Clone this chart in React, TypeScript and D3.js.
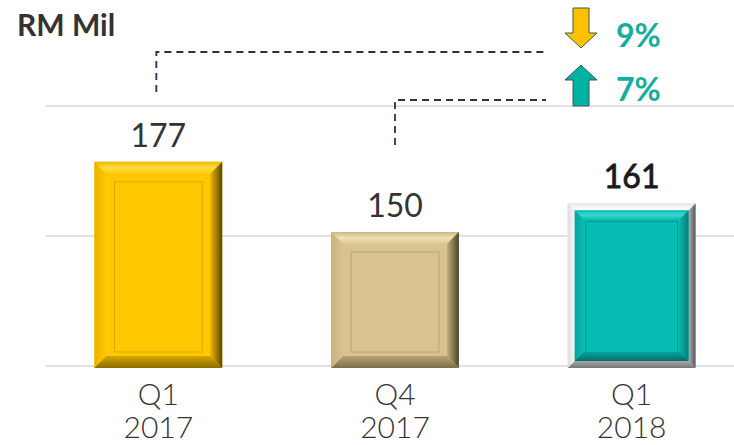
import React from 'react';
import * as d3 from 'd3';

const quarters = ['Q1', 'Q4', 'Q1'];
const years = ['2017', '2017', '2018'];
const values = [177, 150, 161];
const yTicks = [100, 150, 200];
const changeLabels = ['9%', '7%'];
const changeDirections = ['down', 'up'];

const width = 734;
const height = 445;
const font = "Lato, 'Open Sans', sans-serif";

type Palette = {
  face: string;
  top: [string, string, string];
  left: [string, string];
  right: [string, string];
  bottom: [string, string];
  inner: string;
  frame?: boolean;
};

const palettes: Palette[] = [
  {
    face: '#FFC800',
    top: ['#EDB800', '#FFDD45', '#FFCB0A'],
    left: ['#E9B300', '#FFC600'],
    right: ['#F0B800', '#5A4600'],
    bottom: ['#D6A600', '#8A6B00'],
    inner: '#D9A900',
  },
  {
    face: '#D8C290',
    top: ['#CDB580', '#F0E2B6', '#DBC693'],
    left: ['#C9B27D', '#D8C290'],
    right: ['#C4AE7C', '#4E4330'],
    bottom: ['#B9A372', '#7D6D4B'],
    inner: '#BBA472',
  },
  {
    face: '#07BDB3',
    top: ['#10B8AE', '#3AD8CE', '#0BC2B8'],
    left: ['#06A69D', '#08BAB0'],
    right: ['#07B3A9', '#067E78'],
    bottom: ['#07A39A', '#056F69'],
    inner: '#069A92',
    frame: true,
  },
];

function bevel(x0: number, y0: number, x1: number, y1: number, b: number) {
  const p = (pts: number[][]) => pts.map(d => d.join(',')).join(' ');
  return {
    top: p([[x0, y0], [x1, y0], [x1 - b, y0 + b], [x0 + b, y0 + b]]),
    left: p([[x0, y0], [x0 + b, y0 + b], [x0 + b, y1 - b], [x0, y1]]),
    right: p([[x1, y0], [x1, y1], [x1 - b, y1 - b], [x1 - b, y0 + b]]),
    bottom: p([[x0, y1], [x0 + b, y1 - b], [x1 - b, y1 - b], [x1, y1]]),
  };
}

function Bar({ i, x0, x1, y0, y1 }: { i: number; x0: number; x1: number; y0: number; y1: number }) {
  const pal = palettes[i];
  let ix0 = x0, ix1 = x1, iy0 = y0, iy1 = y1;
  const parts: React.ReactNode[] = [];
  if (pal.frame) {
    const f = bevel(x0, y0, x1, y1, 7);
    parts.push(
      <g key="frame">
        <rect x={x0} y={y0} width={x1 - x0} height={y1 - y0} fill="#dcdcdc" />
        <polygon points={f.top} fill="url(#fr-top)" />
        <polygon points={f.left} fill="url(#fr-left)" />
        <polygon points={f.right} fill="url(#fr-right)" />
        <polygon points={f.bottom} fill="url(#fr-bottom)" />
      </g>
    );
    ix0 += 7; ix1 -= 7; iy0 += 7; iy1 -= 7;
  }
  const b = pal.frame ? 9 : 12;
  const inset = pal.frame ? 18 : 20;
  const bv = bevel(ix0, iy0, ix1, iy1, b);
  return (
    <g>
      {parts}
      <rect x={ix0} y={iy0} width={ix1 - ix0} height={iy1 - iy0} fill={pal.face} />
      <polygon points={bv.top} fill={`url(#g${i}-top)`} />
      <polygon points={bv.left} fill={`url(#g${i}-left)`} />
      <polygon points={bv.right} fill={`url(#g${i}-right)`} />
      <polygon points={bv.bottom} fill={`url(#g${i}-bottom)`} />
      <rect
        x={x0 + inset}
        y={y0 + inset}
        width={x1 - x0 - inset * 2}
        height={y1 - y0 - inset * 2 + 4}
        fill="none"
        stroke={pal.inner}
        strokeWidth={1}
      />
    </g>
  );
}

function Arrow({ cx, yTip, yEnd, dir }: { cx: number; yTip: number; yEnd: number; dir: string }) {
  const hw = 16;
  const sw = 8;
  const hl = 15;
  const s = dir === 'down' ? -1 : 1;
  const yBase = yTip + s * hl;
  const pts = [
    [cx, yTip],
    [cx + hw, yBase],
    [cx + sw, yBase],
    [cx + sw, yEnd],
    [cx - sw, yEnd],
    [cx - sw, yBase],
    [cx - hw, yBase],
  ];
  return (
    <polygon
      points={pts.map(d => d.join(',')).join(' ')}
      fill={dir === 'down' ? '#FFC000' : '#00B2A2'}
      stroke="#3E5A4E"
      strokeWidth={1}
    />
  );
}

export default function App() {
  const x = d3.scaleBand<number>()
    .domain(d3.range(values.length))
    .range([40, 750])
    .paddingInner(0.46)
    .paddingOuter(0.23);

  const y = d3.scaleLinear().domain([100, 200]).range([366, 106]);

  const cx = (i: number) => (x(i) as number) + x.bandwidth() / 2;
  const arrowX = 581;
  const dashColor = '#38294F';

  return (
    <svg width={width} height={height} style={{ position: 'absolute', left: 0, top: 0, background: '#fff' }}>
      <defs>
        {palettes.map((pal, i) => (
          <g key={i}>
            <linearGradient id={`g${i}-top`} x1="0" y1="0" x2="0" y2="1">
              <stop offset="0" stopColor={pal.top[0]} />
              <stop offset="0.5" stopColor={pal.top[1]} />
              <stop offset="1" stopColor={pal.top[2]} />
            </linearGradient>
            <linearGradient id={`g${i}-left`} x1="0" y1="0" x2="1" y2="0">
              <stop offset="0" stopColor={pal.left[0]} />
              <stop offset="1" stopColor={pal.left[1]} />
            </linearGradient>
            <linearGradient id={`g${i}-right`} x1="0" y1="0" x2="1" y2="0">
              <stop offset="0" stopColor={pal.right[0]} />
              <stop offset="1" stopColor={pal.right[1]} />
            </linearGradient>
            <linearGradient id={`g${i}-bottom`} x1="0" y1="0" x2="0" y2="1">
              <stop offset="0" stopColor={pal.bottom[0]} />
              <stop offset="1" stopColor={pal.bottom[1]} />
            </linearGradient>
          </g>
        ))}
        <linearGradient id="fr-top" x1="0" y1="0" x2="0" y2="1">
          <stop offset="0" stopColor="#e8e8e8" />
          <stop offset="1" stopColor="#ffffff" />
        </linearGradient>
        <linearGradient id="fr-left" x1="0" y1="0" x2="1" y2="0">
          <stop offset="0" stopColor="#dedede" />
          <stop offset="1" stopColor="#f7f7f7" />
        </linearGradient>
        <linearGradient id="fr-right" x1="0" y1="0" x2="1" y2="0">
          <stop offset="0" stopColor="#b0b0b0" />
          <stop offset="1" stopColor="#555555" />
        </linearGradient>
        <linearGradient id="fr-bottom" x1="0" y1="0" x2="0" y2="1">
          <stop offset="0" stopColor="#a8a8a8" />
          <stop offset="1" stopColor="#777777" />
        </linearGradient>
      </defs>

      {/* gridlines */}
      {yTicks.map(t => (
        <line key={t} x1={46} x2={width} y1={y(t)} y2={y(t)} stroke="#D9D9D9" strokeWidth={1.5} />
      ))}

      <text x={17} y={36} fontFamily={font} fontWeight={700} fontSize={30} fill="#333">RM Mil</text>

      {/* bars */}
      {values.map((v, i) => (
        <Bar key={i} i={i} x0={x(i) as number} x1={(x(i) as number) + x.bandwidth()} y0={y(v) - 4} y1={y(100) + 2} />
      ))}

      {/* value labels */}
      {values.map((v, i) => (
        <text
          key={i}
          x={cx(i)}
          y={y(v) - 19}
          textAnchor="middle"
          fontFamily={font}
          fontSize={32}
          fontWeight={400}
          fill={i === 2 ? '#1a1a1a' : '#333'}
          stroke={i === 2 ? '#1a1a1a' : 'none'}
          strokeWidth={i === 2 ? 0.8 : 0}
        >
          {v}
        </text>
      ))}

      {/* category labels */}
      {values.map((_, i) => (
        <g key={i} fontFamily={font} fontSize={30} fontWeight={300} fill="#333" textAnchor="middle">
          <text x={cx(i)} y={405}>{quarters[i]}</text>
          <text x={cx(i)} y={438}>{years[i]}</text>
        </g>
      ))}

      {/* change annotations */}
      <path
        d={`M${cx(0) - 2},92 V52 H548`}
        fill="none"
        stroke={dashColor}
        strokeWidth={1.8}
        strokeDasharray="7 5"
      />
      <path
        d={`M${cx(1)},145 V100 H546`}
        fill="none"
        stroke={dashColor}
        strokeWidth={1.8}
        strokeDasharray="7 5"
      />
      <Arrow cx={arrowX} yTip={48} yEnd={8} dir={changeDirections[0]} />
      <Arrow cx={arrowX} yTip={65} yEnd={106} dir={changeDirections[1]} />
      {changeLabels.map((l, i) => (
        <text key={l} x={616} y={i === 0 ? 47 : 101} fontFamily={font} fontWeight={700} fontSize={32} fill="#14ADA0">
          {l}
        </text>
      ))}
    </svg>
  );
}
